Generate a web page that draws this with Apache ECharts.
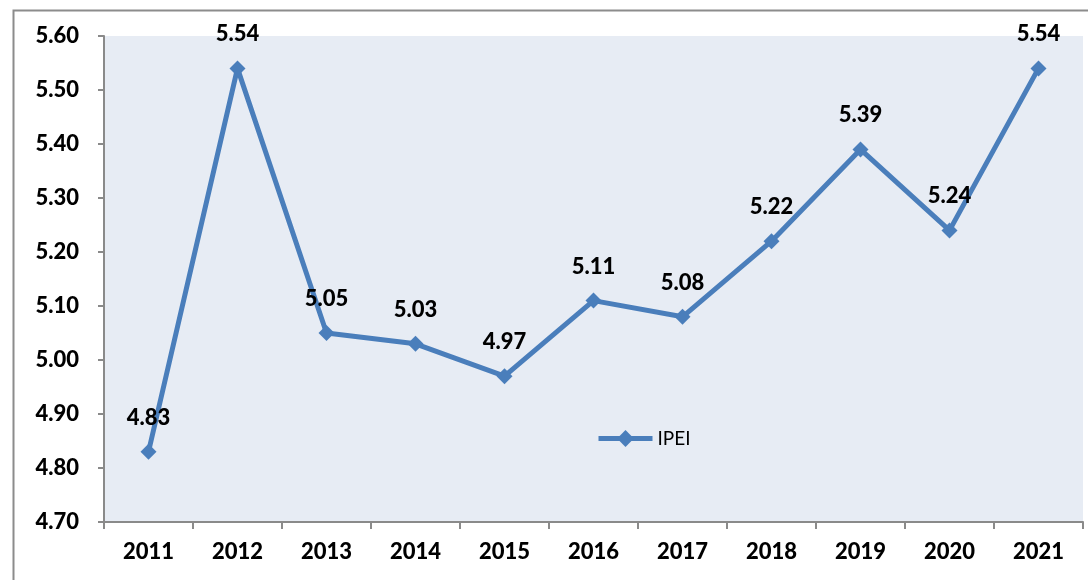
<!DOCTYPE html>
<html>
<head>
<meta charset="utf-8">
<script src="https://cdn.jsdelivr.net/npm/echarts@6/dist/echarts.min.js"></script>
<style>
  html, body { margin: 0; padding: 0; background: #fff; }
  #chart { width: 1088px; height: 580px; }
</style>
</head>
<body>
<div id="chart"></div>
<script>
const years = ['2011', '2012', '2013', '2014', '2015', '2016', '2017', '2018', '2019', '2020', '2021'];
const ipei = [4.83, 5.54, 5.05, 5.03, 4.97, 5.11, 5.08, 5.22, 5.39, 5.24, 5.54];

const font = 'Lato, "Open Sans", sans-serif';
const axisGrey = '#8a8a8a';
const blue = '#4a7ebb';

const option = {
  animation: false,
  backgroundColor: '#fff',
  graphic: [
    {
      type: 'rect',
      left: 11,
      top: 8,
      shape: { width: 1100, height: 600 },
      style: { fill: 'none', stroke: '#8c8c8c', lineWidth: 2 },
      silent: true,
    },
  ],
  grid: {
    left: 104,
    right: 5,
    top: 36,
    bottom: 58,
    show: true,
    backgroundColor: '#e7ecf4',
    borderWidth: 0,
  },
  legend: {
    left: 591,
    top: 424,
    itemWidth: 54,
    itemHeight: 21,
    itemGap: 4,
    textStyle: { fontFamily: font, fontSize: 19, color: '#000' },
    data: [
      {
        name: 'IPEI',
        itemStyle: { color: blue },
        lineStyle: { color: blue, width: 5 },
      },
    ],
  },
  xAxis: {
    type: 'category',
    data: years,
    boundaryGap: true,
    axisLine: { lineStyle: { color: axisGrey, width: 2 } },
    axisTick: { show: true, length: 7, lineStyle: { color: axisGrey, width: 2 } },
    axisLabel: {
      margin: 19,
      fontFamily: font,
      fontWeight: 900,
      fontSize: 22,
      color: '#000',
    },
  },
  yAxis: {
    type: 'value',
    min: 4.7,
    max: 5.6,
    interval: 0.1,
    splitLine: { show: false },
    axisLine: { show: true, lineStyle: { color: axisGrey, width: 2 } },
    axisTick: { show: true, length: 6, lineStyle: { color: axisGrey, width: 2 } },
    axisLabel: {
      margin: 25,
      fontFamily: font,
      fontWeight: 900,
      fontSize: 22,
      color: '#000',
      formatter: v => v.toFixed(2),
    },
  },
  series: [
    {
      name: 'IPEI',
      type: 'line',
      data: ipei,
      symbol: 'diamond',
      symbolSize: 16,
      itemStyle: { color: blue },
      lineStyle: { color: blue, width: 5 },
      label: {
        show: true,
        position: 'top',
        distance: 15,
        fontFamily: font,
        fontWeight: 900,
        fontSize: 22,
        color: '#000',
        formatter: p => p.value.toFixed(2),
      },
    },
  ],
};

echarts.init(document.getElementById('chart')).setOption(option);
</script>
</body>
</html>
